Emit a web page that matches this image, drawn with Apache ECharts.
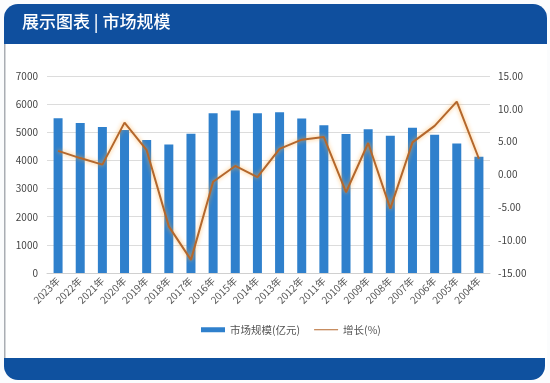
<!DOCTYPE html>
<html><head><meta charset="utf-8">
<script src="https://cdn.jsdelivr.net/npm/echarts@6/dist/echarts.min.js"></script>
<style>html,body{margin:0;padding:0;background:#fbfcfd;}#c{width:550px;height:383px;}</style>
</head><body><div id="c"></div>
<script>
const categories = ['2023年','2022年','2021年','2020年','2019年','2018年','2017年','2016年','2015年','2014年','2013年','2012年','2011年','2010年','2009年','2008年','2007年','2006年','2005年','2004年'];
const marketSize = [5500,5330,5190,5080,4730,4570,4950,5680,5770,5680,5710,5490,5250,4940,5110,4880,5160,4910,4600,4130];
const growth = [3.6,2.5,1.5,7.9,3.7,-7.9,-13.0,-1.1,1.3,-0.4,3.9,5.3,5.7,-2.7,4.8,-5.2,4.9,7.4,11.1,2.4];
const leftTicks = {min:0,max:7000,interval:1000};
const rightTicks = {min:-15,max:15,interval:5};
const titleText = '展示图表 | 市场规模';
const seriesNames = ['市场规模(亿元)','增长(%)'];

const chart = echarts.init(document.getElementById('c'));
const font = '"Noto Sans CJK SC", "Noto Sans", sans-serif';
chart.setOption({
  animation:false,
  textStyle:{fontFamily:font},
  graphic:[
    {type:'rect',z:-10,shape:{x:4,y:4,width:543,height:376,r:14},style:{fill:'#ffffff'}},
    {type:'rect',z:-9,shape:{x:4,y:44,width:1.5,height:316},style:{fill:'#a9adb3'}},
    {type:'rect',z:-8,shape:{x:4,y:4,width:543,height:40,r:[14,14,0,0]},style:{fill:'#0f4f9e'}},
    {type:'text',z:10,left:22,top:13,style:{text:titleText,fill:'#ffffff',font:'500 17px '+font}},
    {type:'rect',z:-8,shape:{x:4,y:358,width:541,height:22,r:[0,0,14,14]},style:{fill:'#0f519f'}}
  ],
  grid:{left:47,right:60,top:76,bottom:110},
  legend:{
    bottom:43,left:196,itemWidth:24,itemHeight:5,itemGap:14,
    textStyle:{fontSize:10.5,color:'#555',fontFamily:font},
    data:[{name:seriesNames[0],icon:'rect'},
          {name:seriesNames[1],icon:'path://M0,0 L24,0 L24,1 L0,1 Z',itemStyle:{color:'#b4672c'}}]
  },
  xAxis:{
    type:'category',data:categories,
    axisLine:{lineStyle:{color:'#d0d0d0'}},
    axisTick:{show:false},
    axisLabel:{interval:0,rotate:45,fontSize:10,color:'#555',margin:6}
  },
  yAxis:[
    {type:'value',min:leftTicks.min,max:leftTicks.max,interval:leftTicks.interval,
     axisLabel:{fontSize:10,color:'#444',margin:9,formatter:v=>String(v)},
     splitLine:{lineStyle:{color:'#dcdcdc'}},axisLine:{show:false},axisTick:{show:false}},
    {type:'value',min:rightTicks.min,max:rightTicks.max,interval:rightTicks.interval,
     axisLabel:{fontSize:10,color:'#444',margin:8,formatter:v=>v.toFixed(2)},
     splitLine:{show:false},axisLine:{show:false},axisTick:{show:false}}
  ],
  series:[
    {name:seriesNames[0],type:'bar',data:marketSize,barWidth:9,itemStyle:{color:'#2f80cc'}},
    {name:seriesNames[1],type:'line',yAxisIndex:1,data:growth,symbol:'none',
     lineStyle:{color:'#b4672c',width:2,shadowColor:'rgba(255,170,60,0.8)',shadowBlur:4},
     itemStyle:{color:'#b4672c'}}
  ]
});
</script></body></html>
